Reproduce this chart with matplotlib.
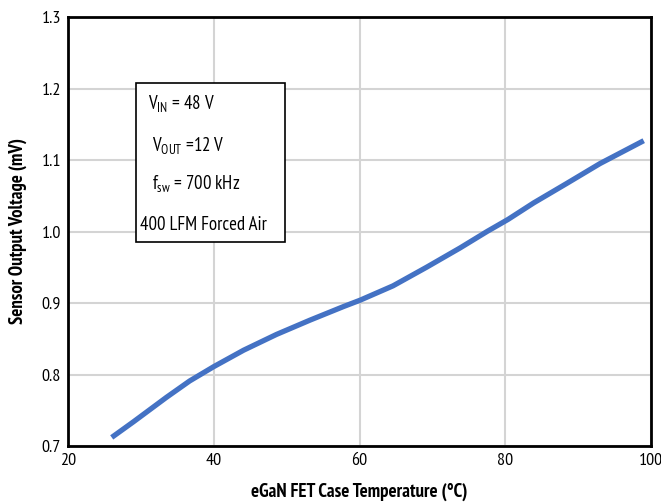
import matplotlib
matplotlib.use("Agg")
import matplotlib.pyplot as plt
from matplotlib.patches import Rectangle

FONT = 'PT Sans Narrow'
plt.rcParams['font.family'] = [FONT, 'DejaVu Sans']
plt.rcParams['mathtext.fontset'] = 'custom'
plt.rcParams['mathtext.rm'] = FONT
plt.rcParams['mathtext.it'] = FONT
plt.rcParams['mathtext.bf'] = FONT + ':bold'

temperature = [26.0, 29.0, 33.5, 36.7, 40.0, 44.1, 48.6, 53.2, 57.8, 60.1, 64.6, 69.2,
               73.8, 77.5, 80.4, 83.9, 88.4, 93.0, 99.0]
voltage = [0.712, 0.734, 0.768, 0.791, 0.811, 0.834, 0.856, 0.876, 0.895, 0.904, 0.924, 0.950,
           0.977, 1.000, 1.017, 1.040, 1.067, 1.095, 1.127]
x_ticks = [20, 40, 60, 80, 100]
y_ticks = [0.7, 0.8, 0.9, 1.0, 1.1, 1.2, 1.3]
y_labels = ['0.7', '0.8', '0.9', '1.0', '1.1', '1.2', '1.3']
box_lines = [r'V$_{\mathrm{IN}}$ = 48 V', r'V$_{\mathrm{OUT}}$ =12 V', r'f$_{\mathrm{sw}}$ = 700 kHz', '400 LFM Forced Air']

W, H = 661, 504
fig = plt.figure(figsize=(W/100, H/100), dpi=100)
ax = fig.add_axes([68/W, 1-446/H, (651-68)/W, (446-17)/H])

ax.plot(temperature, voltage, color='#4472C4', lw=3.8, solid_capstyle='butt',
        solid_joinstyle='round', zorder=3)
ax.set_xlim(20, 100)
ax.set_ylim(0.7, 1.3)
ax.set_xticks(x_ticks)
ax.set_yticks(y_ticks)
ax.set_yticklabels(y_labels)
ax.grid(True, color='#d4d4d4', lw=1.5)
ax.set_axisbelow(True)
ax.tick_params(length=0, labelsize=13, pad=5)
for s in ax.spines.values():
    s.set_color('black')
    s.set_linewidth(2)

fig.text(359/W, 1-492/H, 'eGaN FET Case Temperature (°C)', fontsize=13.5, fontweight='bold',
         ha='center', va='center')
fig.text(18/W, 1-231/H, 'Sensor Output Voltage (mV)', fontsize=13.5, fontweight='bold',
         ha='center', va='center', rotation=90)

box = Rectangle((136/W, 1-242/H), (285-136)/W, (242-83)/H,
                transform=fig.transFigure, facecolor='white', edgecolor='black', lw=1.2, zorder=5)
fig.patches.append(box)
ys = [104, 145, 184, 225]
xs = [148, 152, 152, 140]
for t, xx, yy in zip(box_lines, xs, ys):
    fig.text(xx/W, 1-yy/H, t, fontsize=13.5, va='center', ha='left', zorder=6)

fig.savefig('out.png', dpi=100)
